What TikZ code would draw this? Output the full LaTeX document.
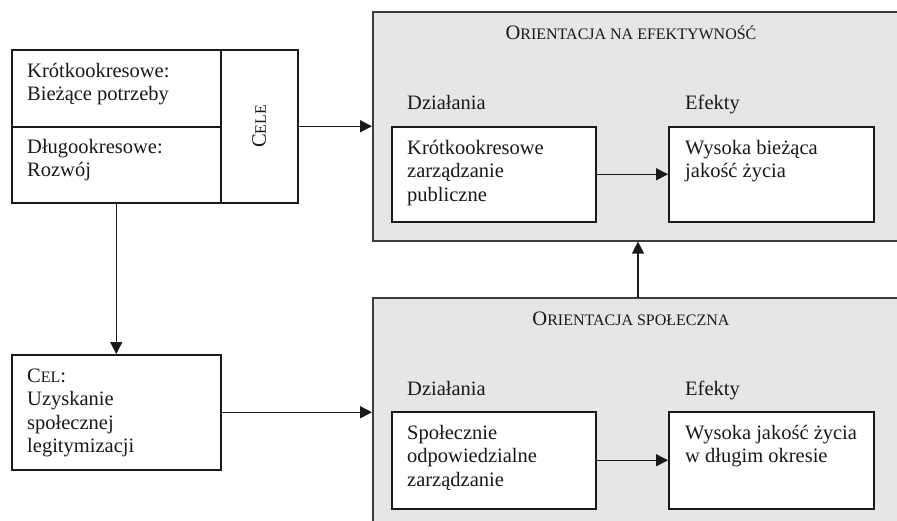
\documentclass[tikz,border=0pt]{standalone}
\usepackage{fontspec}
\setmainfont{Liberation Serif}
\usetikzlibrary{arrows.meta}
\definecolor{panel}{RGB}{230,230,230}
\definecolor{ink}{RGB}{25,25,25}
\newcommand{\bigsc}[2]{{\fontsize{20.5}{24}\selectfont #1}{\fontsize{16}{20}\selectfont #2}}
\newcommand{\lines}[1]{\parbox[t]{200pt}{\fontsize{20.5}{23.5}\selectfont #1}}
\begin{document}
\begin{tikzpicture}[x=1pt,y=-1pt,font=\fontsize{20.5}{23.5}\selectfont,
  box/.style={draw=ink, line width=1.5pt, fill=white, inner sep=0pt, anchor=north west},
  panelbox/.style={draw=ink!85, line width=1.6pt, fill=panel, inner sep=0pt, anchor=north west},
  txt/.style={anchor=base west, inner sep=0pt, text=ink},
  ttl/.style={anchor=base, inner sep=0pt, text=ink},
  arr/.style={draw=ink, -{Triangle[length=12pt,width=12pt]}, line width=1.4pt}]
\clip (0,0) rectangle (897,520);
% left group
\node[box, minimum width=209pt, minimum height=77pt] (short) at (11,49) {};
\node[box, minimum width=209pt, minimum height=76pt] (long) at (11,126) {};
\node[box, minimum width=77pt, minimum height=153pt] (cele) at (220,49) {};
\node[txt] (shortt) at (27,77) {\lines{Krótkookresowe:\\Bieżące potrzeby}};
\node[txt] (longt) at (27,153) {\lines{Długookresowe:\\Rozwój}};
\node[rotate=90, inner sep=0pt, text=ink] (celet) at (cele.center) {\bigsc{C}{ELE}};
% goal box
\node[box, minimum width=209pt, minimum height=115pt] (cel) at (11,354) {};
\node[txt] (celt) at (27,382) {\lines{\bigsc{C}{EL}:\\Uzyskanie\\społecznej\\legitymizacji}};
% panels
\node[panelbox, minimum width=560pt, minimum height=229pt] (top) at (372,11) {};
\node[panelbox, minimum width=560pt, minimum height=260pt] (bot) at (372,297) {};
\node[ttl] (toptitle) at (631,39) {\bigsc{O}{RIENTACJA NA EFEKTYWNOŚĆ}};
\node[ttl] (bottitle) at (631,325) {\bigsc{O}{RIENTACJA SPOŁECZNA}};
\node[txt] (da1) at (407,109) {Działania};
\node[txt] (ef1) at (685,109) {Efekty};
\node[txt] (da2) at (407,395) {Działania};
\node[txt] (ef2) at (685,395) {Efekty};
% inner boxes
\node[box, minimum width=204pt, minimum height=95pt] (a1) at (391,126) {};
\node[box, minimum width=205pt, minimum height=95pt] (e1) at (668,126) {};
\node[box, minimum width=204pt, minimum height=97pt] (a2) at (391,411) {};
\node[box, minimum width=205pt, minimum height=97pt] (e2) at (668,411) {};
\node[txt] (a1t) at (407,154) {\lines{Krótkookresowe\\zarządzanie\\publiczne}};
\node[txt] (e1t) at (685,154) {\lines{Wysoka bieżąca\\jakość życia}};
\node[txt] (a2t) at (407,439) {\lines{Społecznie\\odpowiedzialne\\zarządzanie}};
\node[txt] (e2t) at (685,439) {\lines{Wysoka jakość życia\\w długim okresie}};
% connectors
\draw[arr] (cele.east) -- (cele.east -| top.west);
\draw[arr] (long.south) -- (cel.north);
\draw[arr] (cel.east) -- (cel.east -| bot.west);
\draw[arr] (a1.east) -- (e1.west);
\draw[arr] (a2.east) -- (e2.west);
\draw[arr] ([xshift=266pt]bot.north west) -- ([xshift=266pt]top.south west);
\end{tikzpicture}
\end{document}
